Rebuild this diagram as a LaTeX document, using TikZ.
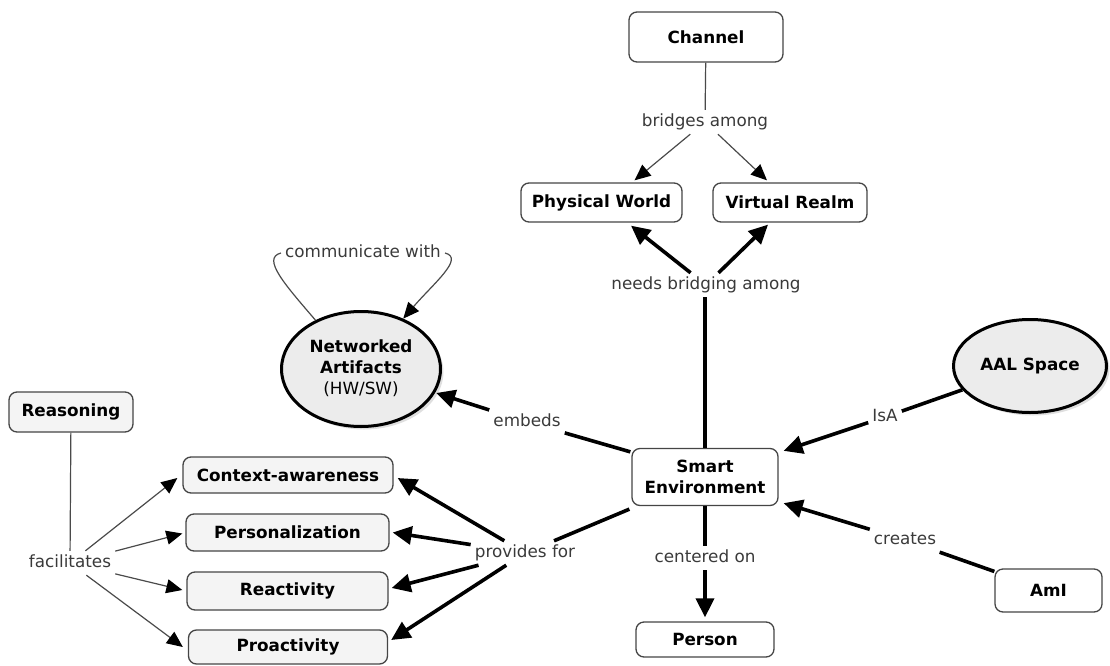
\documentclass[tikz,border=0pt]{standalone}
\usepackage{fontspec}
\setmainfont{DejaVu Sans}
\usetikzlibrary{arrows.meta,shapes.geometric,shadows,calc}
\definecolor{boxline}{HTML}{454545}
\definecolor{lbltext}{HTML}{3A3A3A}
\definecolor{thinline}{HTML}{4A4A4A}
\definecolor{softfill}{HTML}{F4F4F4}
\definecolor{ovalfill}{HTML}{ECECEC}
\begin{document}
\begin{tikzpicture}[x=1pt,y=-1pt,
  font=\fontsize{16.8}{20.5}\selectfont,
  concept/.style={draw=boxline, line width=1.3pt, rounded corners=8pt, fill=white,
    inner sep=0pt, align=center, font=\fontsize{16.8}{20.5}\selectfont\bfseries},
  soft/.style={concept, fill=softfill},
  oval/.style={ellipse, draw=black, line width=3pt, fill=ovalfill, inner sep=0pt,
    align=center, drop shadow={shadow xshift=3pt, shadow yshift=-3pt, opacity=0.25}},
  lbl/.style={inner sep=4pt, text=lbltext, text height=12pt, text depth=4pt},
  thinlink/.style={draw=thinline, line width=1.2pt},
  thinarrow/.style={thinlink, -{Triangle[length=16pt,width=14pt,color=black]}},
  thicklink/.style={draw=black, line width=3.6pt},
  thickarrow/.style={thicklink, -{Triangle[length=19pt,width=18pt]}}
]
\useasboundingbox (0,0) rectangle (1110,666);

% concepts
\node[concept, minimum width=154pt, minimum height=50pt] (ch) at (706,37) {Channel};
\node[concept, minimum width=161pt, minimum height=39pt] (pw) at (601.5,202.5) {Physical World};
\node[concept, minimum width=154pt, minimum height=39pt] (vr) at (790,202.5) {Virtual Realm};
\node[concept, minimum width=146pt, minimum height=57pt] (se) at (705,477) {Smart\\Environment};
\node[concept, minimum width=138pt, minimum height=35pt] (per) at (705,639.5) {Person};
\node[concept, minimum width=107pt, minimum height=43pt] (ami) at (1048.5,590.5) {AmI};
\node[oval, minimum width=153pt, minimum height=93pt, font=\fontsize{16.8}{20.5}\selectfont\bfseries] (aal) at (1030,366) {AAL Space};
\node[oval, minimum width=159pt, minimum height=115pt, font=\fontsize{16.8}{21}\selectfont] (na) at (361,369)
  {\textbf{Networked}\\\textbf{Artifacts}\\(HW/SW)\rule[-3pt]{0pt}{0pt}};
\node[soft, minimum width=124pt, minimum height=40pt] (rs) at (71,412) {Reasoning};
\node[soft, minimum width=210pt, minimum height=36pt] (ca) at (288,475) {Context-awareness};
\node[soft, minimum width=203pt, minimum height=37pt] (pers) at (287.5,532.5) {Personalization};
\node[soft, minimum width=201pt, minimum height=38pt] (rea) at (287.5,591) {Reactivity};
\node[soft, minimum width=199pt, minimum height=34pt] (pro) at (288,647) {Proactivity};

% linking phrases
\node[lbl] (lb1) at (705,122) {bridges among};
\node[lbl] (lb2) at (706,285) {needs bridging among};
\node[lbl] (isa) at (885,417) {IsA};
\node[lbl] (cr) at (905,540) {creates};
\node[lbl] (emb) at (527,422) {embeds};
\node[lbl] (pf) at (525,553) {provides for};
\node[lbl] (co) at (705,558) {centered on};
\node[lbl] (fac) at (70,563) {facilitates};
\node[lbl] (cw) at (363,253) {communicate with};

% Channel bridges among the two worlds
\draw[thinlink] (ch) -- (lb1);
\draw[thinarrow] (lb1) -- ($(pw.north)+(33,-2)$);
\draw[thinarrow] (lb1) -- ($(vr.north)+(-23,-2)$);

% Smart Environment needs bridging
\draw[thicklink] (se.north) -- (se.north |- lb2.south);
\draw[thickarrow] (lb2) -- ($(pw.south)+(29.5,3)$);
\draw[thickarrow] (lb2) -- ($(vr.south)+(-22,2)$);

% AAL Space IsA Smart Environment
\draw[thicklink] (aal) -- (isa);
\draw[thickarrow] (isa) -- ($(se.north east)+(5,3)$);

% AmI creates Smart Environment
\draw[thicklink] (ami) -- (cr);
\draw[thickarrow] (cr) -- ($(se.south east)+(5,-3)$);

% Smart Environment embeds Networked Artifacts
\draw[thicklink] ($(se.north west)+(-1,4)$) -- (emb);
\draw[thickarrow, shorten >=1pt] (emb) -- (na);

% Smart Environment provides for
\draw[thicklink] ($(se.south west)+(-2,3)$) -- (pf);
\draw[thickarrow] (pf) -- ($(ca.east)+(4,3)$);
\draw[thickarrow] (pf) -- ($(pers.east)+(3,0)$);
\draw[thickarrow] (pf) -- ($(rea.east)+(3,-3)$);
\draw[thickarrow] (pf) -- ($(pro.east)+(3,-7)$);

% Smart Environment centered on Person
\draw[thicklink] (se.south) -- (co.north);
\draw[thickarrow] (co.south) -- ($(per.north)+(0,-4)$);

% Reasoning facilitates
\draw[thinlink] (rs) -- (fac);
\draw[thinarrow] (fac) -- ($(ca.west)+(-5,3)$);
\draw[thinarrow] (fac) -- ($(pers.west)+(-3,1)$);
\draw[thinarrow] (fac) -- ($(rea.west)+(-4,-1)$);
\draw[thinarrow] (fac) -- ($(pro.west)+(-5,0)$);

% Networked Artifacts communicate with each other
\draw[thinlink] (na.133) .. controls +(-30,-35) and +(-20,5) .. (cw.west);
\draw[thinarrow] (cw.east) .. controls +(20,5) and +(30,-35) .. (na.50);
\end{tikzpicture}
\end{document}
